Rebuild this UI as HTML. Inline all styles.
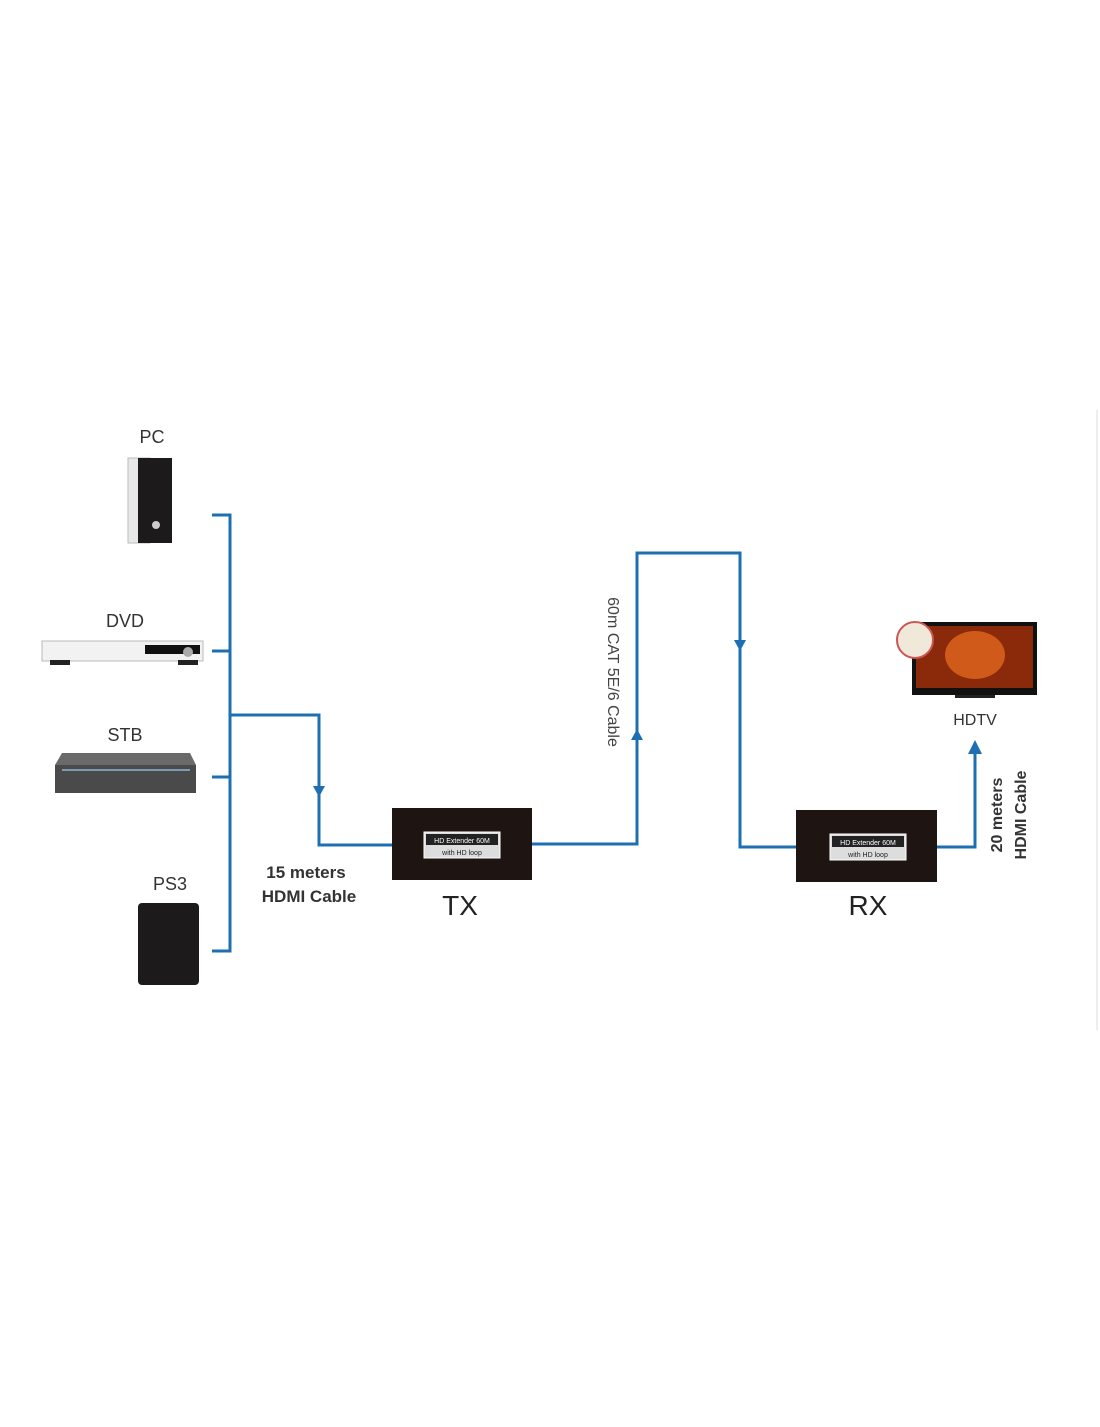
<!DOCTYPE html>
<html><head><style>
body{margin:0;background:#fff;}
</style></head><body>
<svg width="1100" height="1422" viewBox="0 0 1100 1422" xmlns="http://www.w3.org/2000/svg" font-family="Liberation Sans, sans-serif">
<rect width="1100" height="1422" fill="#fff"/>
<line x1="1097" y1="410" x2="1097" y2="1030" stroke="#eee" stroke-width="2"/>
<g stroke="#1d6fb2" stroke-width="3" fill="none">
<polyline points="212,515 230,515 230,951 212,951"/>
<line x1="212" y1="651" x2="230" y2="651"/>
<line x1="212" y1="777" x2="230" y2="777"/>
<polyline points="230,715 319,715 319,845 392,845"/>
<polyline points="532,844 637,844 637,553 740,553 740,847 796,847"/>
<polyline points="937,847 975,847 975,752"/>
</g>
<g fill="#1d6fb2">
<polygon points="313,786 325,786 319,797"/>
<polygon points="631,740 643,740 637,729"/>
<polygon points="734,640 746,640 740,651"/>
<polygon points="968,754 982,754 975,740"/>
</g>
<g fill="#333" font-size="18" text-anchor="middle">
<text x="152" y="443">PC</text>
<text x="125" y="627">DVD</text>
<text x="125" y="741">STB</text>
<text x="170" y="890">PS3</text>
<text x="975" y="725" font-size="16">HDTV</text>
<text x="460" y="915" font-size="28" fill="#222">TX</text>
<text x="868" y="915" font-size="28" fill="#222">RX</text>
</g>
<g fill="#333" font-size="17" font-weight="bold" text-anchor="middle">
<text x="306" y="878">15 meters</text>
<text x="309" y="902">HDMI Cable</text>
</g>
<text transform="translate(608,672) rotate(90)" text-anchor="middle" font-size="16" fill="#444">60m CAT 5E/6 Cable</text>
<g transform="translate(1002,815) rotate(-90)" text-anchor="middle" font-size="16" font-weight="bold" fill="#333">
<text x="0" y="0">20 meters</text>
<text x="0" y="24">HDMI Cable</text>
</g>
<!-- TX/RX boxes -->
<g>
<rect x="392" y="808" width="140" height="72" fill="#1e1412"/>
<rect x="424" y="832" width="76" height="26" fill="#ddd" stroke="#fff"/>
<rect x="426" y="834" width="72" height="11" fill="#222"/>
<text x="462" y="843" font-size="7" fill="#fff" text-anchor="middle">HD Extender 60M</text>
<text x="462" y="855" font-size="7" fill="#222" text-anchor="middle">with HD loop</text>
<rect x="796" y="810" width="141" height="72" fill="#1e1412"/>
<rect x="830" y="834" width="76" height="26" fill="#ddd" stroke="#fff"/>
<rect x="832" y="836" width="72" height="11" fill="#222"/>
<text x="868" y="845" font-size="7" fill="#fff" text-anchor="middle">HD Extender 60M</text>
<text x="868" y="857" font-size="7" fill="#222" text-anchor="middle">with HD loop</text>
</g>
<!-- PC -->
<rect x="128" y="458" width="22" height="85" fill="#e8e8e8" stroke="#bbb"/>
<rect x="138" y="458" width="34" height="85" fill="#1c1a1a"/>
<circle cx="156" cy="525" r="4" fill="#ccc"/>
<!-- DVD -->
<rect x="42" y="641" width="161" height="20" fill="#f2f2f2" stroke="#bbb"/>
<rect x="145" y="645" width="55" height="9" fill="#111"/>
<circle cx="188" cy="652" r="5" fill="#aaa"/>
<rect x="50" y="660" width="20" height="5" fill="#222"/>
<rect x="178" y="660" width="20" height="5" fill="#222"/>
<!-- STB -->
<polygon points="62,753 190,753 196,765 55,765" fill="#6a6a6a"/>
<rect x="55" y="765" width="141" height="28" fill="#4a4a4a"/>
<line x1="62" y1="770" x2="190" y2="770" stroke="#8cb4d8" stroke-width="1.5"/>
<!-- PS3 -->
<rect x="138" y="903" width="61" height="82" rx="4" fill="#1c1a1a"/>
<!-- TV -->
<rect x="912" y="622" width="125" height="73" fill="#111"/>
<rect x="916" y="626" width="117" height="62" fill="#8a2a0a"/>
<ellipse cx="975" cy="655" rx="30" ry="24" fill="#d05a1a"/>
<rect x="955" y="695" width="40" height="3" fill="#222"/>
<circle cx="915" cy="640" r="18" fill="#f0e8d8" stroke="#c55" stroke-width="2"/>
</svg>
</body></html>
